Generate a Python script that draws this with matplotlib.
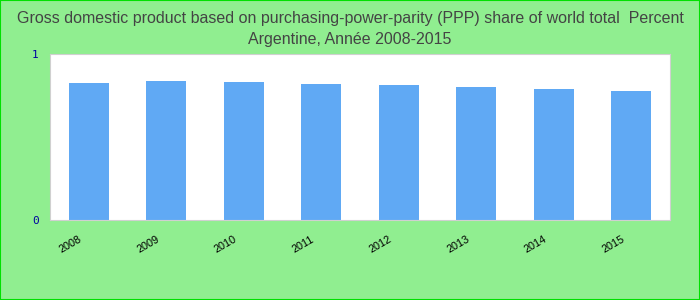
import matplotlib.pyplot as plt
from matplotlib.patches import Rectangle
from matplotlib.transforms import ScaledTranslation

# Data
years = ['2008', '2009', '2010', '2011', '2012', '2013', '2014', '2015']
share = [0.825, 0.837, 0.831, 0.819, 0.813, 0.801, 0.789, 0.777]

title = ('Gross domestic product based on purchasing-power-parity (PPP) share of world total  Percent\n'
         'Argentine, Année 2008-2015')

fig = plt.figure(figsize=(7, 3), dpi=100, facecolor='#90EE90')
ax = fig.add_axes([50 / 700, 80 / 300, 620 / 700, 166 / 300])
ax.set_facecolor('white')

x = list(range(len(years)))
ax.bar(x, share, width=0.52, color='#60A9F4')

ax.set_xlim(-0.5, len(years) - 0.5)
ax.set_ylim(0, 1)
ax.set_yticks([0, 1])
ax.set_yticklabels(['0', '1'], family='DejaVu Sans Mono', fontsize=8, color='#0000A0')
ax.set_xticks(x)
ax.set_xticklabels(years, rotation=30, ha='right', fontsize=7.8, family='Liberation Sans', color='black')
ax.tick_params(axis='both', length=0)
ax.tick_params(axis='y', pad=8)
ax.tick_params(axis='x', pad=10)
# shift year labels a bit left, as in the reference
shift = ScaledTranslation(-5 / 100, 0, fig.dpi_scale_trans)
for lbl in ax.get_xticklabels():
    lbl.set_transform(lbl.get_transform() + shift)
for s in ax.spines.values():
    s.set_color('#D0D0D0')

fig.text(0.5, 0.965, title, ha='center', va='top', fontsize=11.5, color='#444444',
         family='Liberation Sans', linespacing=1.55)

# outer border
fig.patches.append(Rectangle((0, 0), 1, 1, transform=fig.transFigure, fill=False,
                             edgecolor='#00E000', linewidth=1.5))

fig.savefig('out.png', dpi=100, facecolor=fig.get_facecolor())
